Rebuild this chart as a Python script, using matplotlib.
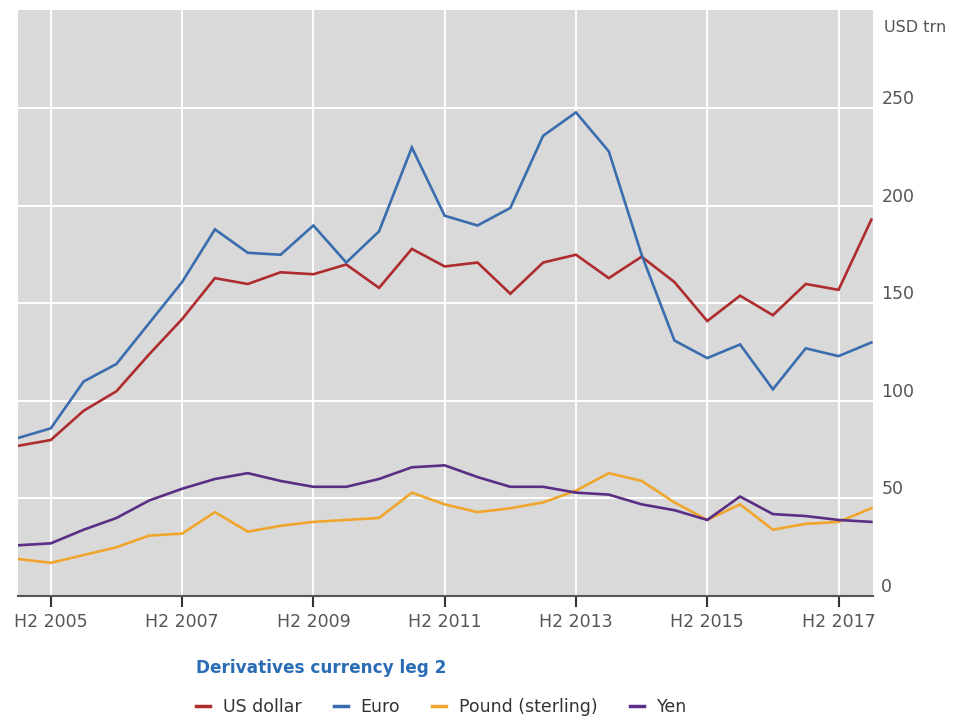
import matplotlib
matplotlib.use("Agg")
import matplotlib.pyplot as plt
from matplotlib.lines import Line2D

# Half-year periods from H1 2005 to H1 2018
periods = [f"H{h} {y}" for y in range(2005, 2019) for h in (1, 2)][:27]

us_dollar = [77, 80, 95, 105, 124, 142, 163, 160, 166, 165, 170, 158, 178, 169,
             171, 155, 171, 175, 163, 174, 161, 141, 154, 144, 160, 157, 193]
euro = [81, 86, 110, 119, 140, 161, 188, 176, 175, 190, 171, 187, 230, 195,
        190, 199, 236, 248, 228, 175, 131, 122, 129, 106, 127, 123, 130]
pound = [19, 17, 21, 25, 31, 32, 43, 33, 36, 38, 39, 40, 53, 47,
         43, 45, 48, 54, 63, 59, 48, 39, 47, 34, 37, 38, 45]
yen = [26, 27, 34, 40, 49, 55, 60, 63, 59, 56, 56, 60, 66, 67,
       61, 56, 56, 53, 52, 47, 44, 39, 51, 42, 41, 39, 38]

series_names = ["US dollar", "Euro", "Pound (sterling)", "Yen"]
series_values = [us_dollar, euro, pound, yen]
series_colors = ["#ae2c2e", "#3a6dad", "#f0a62d", "#5a2e84"]

x_tick_labels = ["H2 2005", "H2 2007", "H2 2009", "H2 2011",
                 "H2 2013", "H2 2015", "H2 2017"]
y_ticks = [0, 50, 100, 150, 200, 250]

fig = plt.figure(figsize=(9.66, 7.16), dpi=100)
ax = fig.add_axes([18 / 966, 1 - 596 / 716, (873 - 18) / 966, (596 - 10) / 716])
ax.set_facecolor("#d9d9d9")

xs = list(range(len(periods)))
for name, vals, col in zip(series_names, series_values, series_colors):
    ax.plot(xs, vals, color=col, lw=1.9, label=name, solid_joinstyle="miter", zorder=3)

ax.set_xlim(0, len(periods) - 1 + 0.05)
ax.set_ylim(0, 300.5)

xt = [periods.index(p) for p in x_tick_labels]
ax.set_xticks(xt)
ax.set_xticklabels(x_tick_labels, fontsize=12.5, color="#555555")
ax.tick_params(axis="x", direction="out", length=8, width=1.5, color="#333333", pad=4)

ax.yaxis.tick_right()
ax.set_yticks(y_ticks)
ax.set_yticklabels([str(v) for v in y_ticks], fontsize=12.5, color="#555555")
ax.tick_params(axis="y", length=0, pad=6)
for lbl in ax.get_yticklabels():
    lbl.set_verticalalignment("bottom")

ax.grid(True, color="white", lw=1.4, zorder=1)
ax.set_axisbelow(True)
for s in ("top", "right", "left"):
    ax.spines[s].set_visible(False)
ax.spines["bottom"].set_color("#555555")
ax.spines["bottom"].set_linewidth(1.5)

fig.text(884 / 966, 1 - 27 / 716, "USD trn", fontsize=11.5, color="#555555",
         ha="left", va="center")

# Legend heading and entries below the plot
fig.text(196 / 966, 1 - 668 / 716, "Derivatives currency leg 2", fontsize=12.2,
         fontweight="bold", color="#2a6db5", ha="left", va="center")

handles = [Line2D([], [], color=c, lw=2.5) for c in series_colors]
leg = fig.legend(handles, series_names, loc="center left",
                 bbox_to_anchor=(196 / 966, 1 - 707 / 716), ncol=4, frameon=False,
                 fontsize=12.5, handlelength=0.8, handletextpad=0.75,
                 columnspacing=1.85, borderaxespad=0, borderpad=0)
for t in leg.get_texts():
    t.set_color("#333333")

fig.savefig("out.png", dpi=100)
